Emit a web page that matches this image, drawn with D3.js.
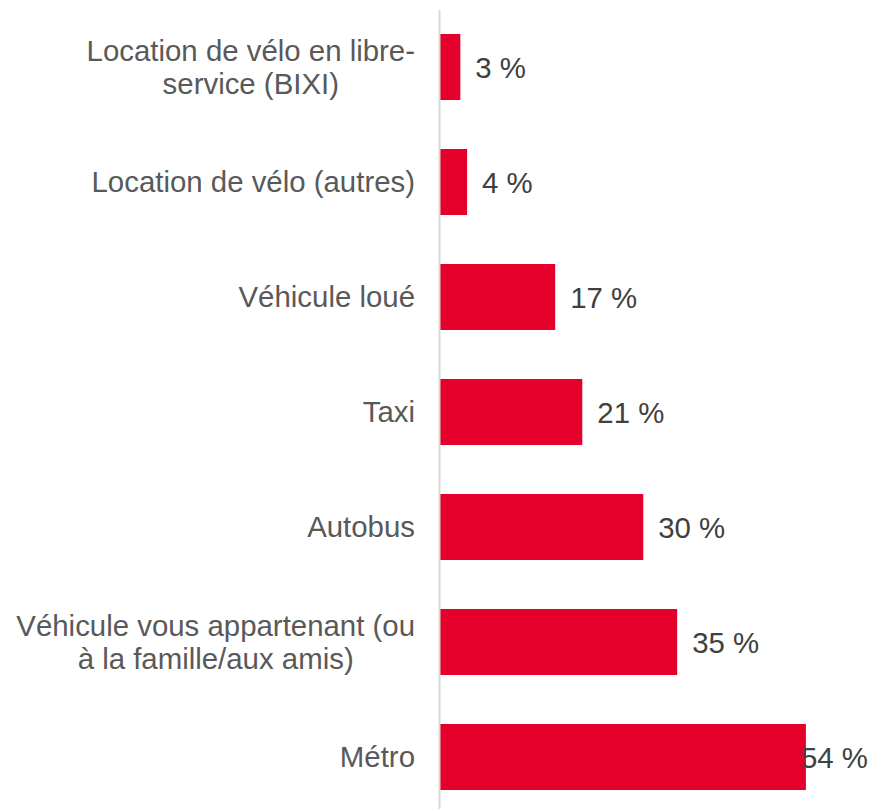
<!DOCTYPE html>
<html>
<head>
<meta charset="utf-8">
<script src="https://cdn.jsdelivr.net/npm/d3@7"></script>
<style>
  html, body { margin: 0; padding: 0; background: #ffffff; }
  svg { display: block; }
  text { font-family: "Liberation Sans", Arial, sans-serif; }
</style>
</head>
<body>
<svg id="chart" width="871" height="809"></svg>
<script>
// ---- data ----
const categories = [
  "Location de vélo en libre-service (BIXI)",
  "Location de vélo (autres)",
  "Véhicule loué",
  "Taxi",
  "Autobus",
  "Véhicule vous appartenant (ou à la famille/aux amis)",
  "Métro"
];
const categoryLines = [
  ["Location de vélo en libre-", "service (BIXI)"],
  ["Location de vélo (autres)"],
  ["Véhicule loué"],
  ["Taxi"],
  ["Autobus"],
  ["Véhicule vous appartenant (ou", "à la famille/aux amis)"],
  ["Métro"]
];
const values = [3, 4, 17, 21, 30, 35, 54];
const valueLabels = ["3 %", "4 %", "17 %", "21 %", "30 %", "35 %", "54 %"];

// ---- layout ----
const W = 871, H = 809;
const axisX = 440;
const fontSize = 29.4;
const lineH = 33;
const labelRight = 415;
const barColor = "#E4002B";

const svg = d3.select("#chart");

const x = d3.scaleLinear().domain([0, 60]).range([axisX, axisX + 60 * 6.776]);
const y = d3.scaleBand().domain(categories).range([9.5, 814.5])
  .paddingInner(0.426).paddingOuter(0.213);

const rows = categories.map((c, i) => ({ c, v: values[i], lab: valueLabels[i], lines: categoryLines[i] }));

// bars
svg.append("g").selectAll("rect").data(rows).join("rect")
  .attr("x", x(0))
  .attr("y", d => y(d.c))
  .attr("width", d => x(d.v) - x(0))
  .attr("height", y.bandwidth())
  .attr("fill", barColor);

// vertical axis line
const axis = svg.append("g")
  .attr("transform", `translate(${axisX - 1},0)`)
  .call(d3.axisLeft(y).tickSize(0).tickFormat(""));
axis.select(".domain").attr("stroke", "#d9d9d9").attr("stroke-width", 2);

// category labels (multi-line labels: lines centred within the right-aligned block)
const catG = svg.append("g");
rows.forEach(d => {
  const cy = y(d.c) + y.bandwidth() / 2;
  const n = d.lines.length;
  const tmp = catG.append("text").attr("font-size", fontSize);
  const widths = d.lines.map(l => { tmp.text(l); return tmp.node().getComputedTextLength(); });
  tmp.remove();
  const bw = d3.max(widths);
  const center = labelRight - bw / 2;
  const firstBase = cy + 10 - (n - 1) * lineH / 2;
  d.lines.forEach((l, k) => {
    catG.append("text")
      .attr("x", center)
      .attr("y", firstBase + k * lineH)
      .attr("text-anchor", "middle")
      .attr("font-size", fontSize)
      .attr("fill", "#595959")
      .text(l);
  });
});

// value labels
const valG = svg.append("g");
rows.forEach(d => {
  const cy = y(d.c) + y.bandwidth() / 2;
  const t = valG.append("text")
    .attr("y", cy + 11)
    .attr("font-size", fontSize)
    .attr("fill", "#404040")
    .text(d.lab);
  const w = t.node().getComputedTextLength();
  t.attr("x", Math.min(x(d.v) + 15, W - 3 - w));
});
</script>
</body>
</html>
